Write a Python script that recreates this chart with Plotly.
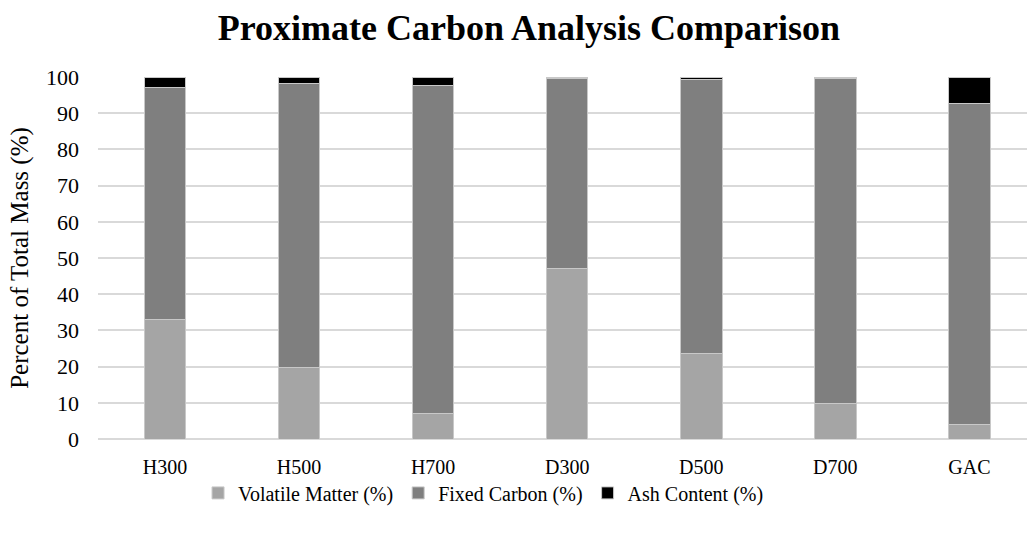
import plotly.graph_objects as go

# Proximate analysis of each carbon sample (percent of total mass)
samples = ["H300", "H500", "H700", "D300", "D500", "D700", "GAC"]
volatile_matter = [33.0, 19.8, 7.0, 47.0, 23.6, 9.8, 4.0]
fixed_carbon = [64.2, 78.3, 90.7, 52.7, 75.8, 89.9, 88.8]
ash_content = [2.8, 1.9, 2.3, 0.3, 0.6, 0.3, 7.2]
y_ticks = list(range(0, 101, 10))

FONT = "Liberation Serif, serif"
EDGE = dict(color="#C8C8C8", width=1)

fig = go.Figure()
fig.add_trace(go.Bar(name="Volatile Matter (%)", x=samples, y=volatile_matter,
                     marker=dict(color="#A5A5A5", line=EDGE)))
fig.add_trace(go.Bar(name="Fixed Carbon (%)", x=samples, y=fixed_carbon,
                     marker=dict(color="#7F7F7F", line=EDGE)))
fig.add_trace(go.Bar(name="Ash Content (%)", x=samples, y=ash_content,
                     marker=dict(color="#000000", line=EDGE)))

fig.update_layout(
    barmode="stack",
    bargap=0.69,
    width=1027,
    height=533,
    margin=dict(l=98, r=0, t=77, b=94, autoexpand=False),
    paper_bgcolor="white",
    plot_bgcolor="white",
    font=dict(family=FONT, size=20, color="#000000"),
    title=dict(text="<b>Proximate Carbon Analysis Comparison</b>",
               font=dict(family=FONT, size=36, color="#000000"),
               x=0.515, xanchor="center", xref="container",
               y=0.948, yanchor="middle", yref="container"),
    legend=dict(orientation="h", x=0.415, xanchor="center", y=-0.095, yanchor="top",
                font=dict(family=FONT, size=20, color="#000000"), itemwidth=30,
                traceorder="normal", bgcolor="rgba(0,0,0,0)"),
    showlegend=True,
)

fig.update_xaxes(
    type="category",
    range=[-0.5, 6.43],
    showgrid=False,
    showline=False,
    ticks="",
    ticklabelstandoff=14,
    tickfont=dict(family=FONT, size=20, color="#000000"),
)

fig.update_yaxes(
    range=[0, 100],
    tickvals=y_ticks,
    showgrid=True,
    gridcolor="#D9D9D9",
    gridwidth=1.5,
    zeroline=True,
    zerolinecolor="#D9D9D9",
    zerolinewidth=1.5,
    showline=False,
    ticks="",
    ticklabelstandoff=18,
    tickfont=dict(family=FONT, size=22, color="#000000"),
    title=dict(text="Percent of Total Mass (%)", standoff=10,
               font=dict(family=FONT, size=25, color="#000000")),
)

fig.write_html("out.html")
